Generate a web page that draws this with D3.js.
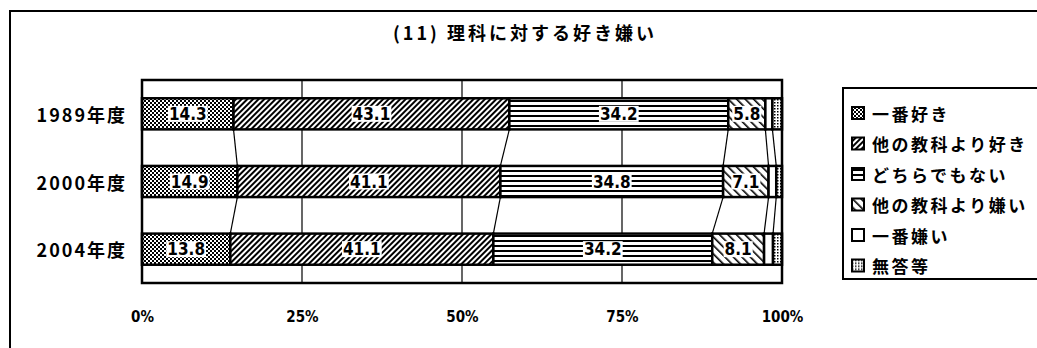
<!DOCTYPE html>
<html>
<head>
<meta charset="utf-8">
<script src="https://cdn.jsdelivr.net/npm/d3@7"></script>
<style>
  html, body { margin: 0; padding: 0; background: #fff; }
  svg { display: block; }
  .jp { font-family: "Noto Sans CJK JP", "Noto Sans", sans-serif; font-weight: bold; }
  .num { font-family: "DejaVu Sans Condensed", "DejaVu Sans", sans-serif; font-weight: bold; font-stretch: condensed; }
</style>
</head>
<body>
<script>
// Survey: liking / disliking science, by school year
const title = "(11) 理科に対する好き嫌い";
const categories = ["1989年度", "2000年度", "2004年度"];
const seriesNames = ["一番好き", "他の教科より好き", "どちらでもない", "他の教科より嫌い", "一番嫌い", "無答等"];
const likeMost    = [14.3, 14.9, 13.8];
const likeMore    = [43.1, 41.1, 41.1];
const neutral     = [34.2, 34.8, 34.2];
const dislikeMore = [5.8, 7.1, 8.1];
const dislikeMost = [1.1, 1.2, 1.4];
const noAnswer    = [1.5, 0.9, 1.4];
const labelledSeries = 4; // first four series carry value labels
const tickValues = [0, 25, 50, 75, 100];

const seriesValues = [likeMost, likeMore, neutral, dislikeMore, dislikeMost, noAnswer];
const rows = categories.map((c, i) => {
  const r = { cat: c };
  seriesNames.forEach((s, k) => r[s] = seriesValues[k][i]);
  return r;
});

const W = 1037, H = 348;
const svg = d3.select("body").append("svg").attr("width", W).attr("height", H);

// fill patterns
const defs = svg.append("defs");
function pat(id, w, h, build, transform) {
  const p = defs.append("pattern").attr("id", id).attr("patternUnits", "userSpaceOnUse")
    .attr("width", w).attr("height", h);
  if (transform) p.attr("patternTransform", transform);
  p.append("rect").attr("width", w).attr("height", h).attr("fill", "#fff");
  build(p);
}
pat("p0", 4, 4, p => {
  p.append("rect").attr("x", 0).attr("y", 0).attr("width", 2).attr("height", 2).attr("fill", "#000");
  p.append("rect").attr("x", 2).attr("y", 2).attr("width", 2).attr("height", 2).attr("fill", "#000");
});
pat("p1", 4, 4, p => {
  p.append("rect").attr("x", 0).attr("y", 0).attr("width", 2).attr("height", 4).attr("fill", "#000");
}, "rotate(45)");
pat("p2", 5, 5, p => {
  p.append("rect").attr("x", 0).attr("y", 0).attr("width", 5).attr("height", 2).attr("fill", "#000");
});
pat("p3", 6, 6, p => {
  p.append("rect").attr("x", 0).attr("y", 0).attr("width", 1.6).attr("height", 6).attr("fill", "#000");
}, "rotate(-45)");
pat("p4", 4, 4, p => {});
pat("p5", 3, 3, p => {
  p.append("rect").attr("x", 0).attr("y", 0).attr("width", 1.5).attr("height", 1.5).attr("fill", "#000");
});
const fillFor = d3.scaleOrdinal().domain(seriesNames).range(seriesNames.map((_, i) => `url(#p${i})`));

// outer frame
svg.append("path").attr("d", `M10,${H} L10,11 L${W},11`).attr("fill", "none")
  .attr("stroke", "#000").attr("stroke-width", 2);

// title
svg.append("text").attr("class", "jp").attr("x", 525).attr("y", 40)
  .attr("text-anchor", "middle").attr("font-size", 18).attr("letter-spacing", 3)
  .text(title);

// scales
const x = d3.scaleLinear().domain([0, 100]).range([142, 782]);
const y = d3.scaleBand().domain(categories).range([80, 283]).paddingInner(0.54).paddingOuter(0.27);

// gridlines
svg.append("g").selectAll("line").data(tickValues.slice(1, -1)).join("line")
  .attr("x1", d => x(d)).attr("x2", d => x(d)).attr("y1", 80).attr("y2", 283)
  .attr("stroke", "#000").attr("stroke-width", 1.2);

// stacked bars
const stack = d3.stack().keys(seriesNames)(rows);

// series lines between neighbouring bars
const connectors = [];
for (let k = 0; k < stack.length - 1; k++) {
  for (let i = 0; i < categories.length - 1; i++) {
    connectors.push({
      x1: x(stack[k][i][1]), y1: y(categories[i]) + y.bandwidth(),
      x2: x(stack[k][i + 1][1]), y2: y(categories[i + 1])
    });
  }
}
svg.append("g").selectAll("line").data(connectors).join("line")
  .attr("x1", d => d.x1).attr("y1", d => d.y1).attr("x2", d => d.x2).attr("y2", d => d.y2)
  .attr("stroke", "#000").attr("stroke-width", 1.2);

const layers = svg.append("g").selectAll("g").data(stack).join("g")
  .attr("fill", d => fillFor(d.key));
layers.selectAll("rect").data(d => d).join("rect")
  .attr("x", d => x(d[0])).attr("width", d => x(d[1]) - x(d[0]))
  .attr("y", d => y(d.data.cat)).attr("height", y.bandwidth())
  .attr("stroke", "#000").attr("stroke-width", 2.5);

// value labels with white backing
const labelG = svg.append("g");
stack.slice(0, labelledSeries).forEach(layer => {
  layer.forEach(d => {
    const cx = (x(d[0]) + x(d[1])) / 2;
    const cy = y(d.data.cat) + y.bandwidth() / 2;
    const g = labelG.append("g");
    const t = g.append("text").attr("class", "num").attr("x", cx).attr("y", cy)
      .attr("text-anchor", "middle").attr("dominant-baseline", "central")
      .attr("font-size", 17).text(d[1] - d[0] >= 0 ? (d.data[layer.key]).toFixed(1) : "");
    const b = t.node().getBBox();
    g.insert("rect", "text").attr("x", b.x - 1).attr("y", cy - 8).attr("width", b.width + 2)
      .attr("height", 16).attr("fill", "#fff");
  });
});

// plot frame
svg.append("rect").attr("x", 142).attr("y", 80).attr("width", 640).attr("height", 203)
  .attr("fill", "none").attr("stroke", "#000").attr("stroke-width", 2.5);

// category axis labels
svg.append("g").selectAll("text").data(categories).join("text")
  .attr("class", "jp").attr("x", 127).attr("y", d => y(d) + y.bandwidth() / 2)
  .attr("text-anchor", "end").attr("dominant-baseline", "central")
  .attr("font-size", 18).attr("letter-spacing", 2).text(d => d);

// percentage axis
const xAxis = d3.axisBottom(x).tickValues(tickValues).tickSize(0).tickPadding(0)
  .tickFormat(d => d + "%");
const ax = svg.append("g").attr("transform", "translate(0,311)").call(xAxis);
ax.select(".domain").remove();
ax.selectAll("text").attr("class", "num").attr("font-size", 15).attr("fill", "#000")
  .attr("dy", "0.71em").attr("y", 0);

// legend
const lg = svg.append("g");
lg.append("path").attr("d", `M${W + 2},88 L843,88 L843,279 L${W + 2},279`)
  .attr("fill", "none").attr("stroke", "#000").attr("stroke-width", 2);
const items = lg.selectAll("g.item").data(seriesNames).join("g").attr("class", "item")
  .attr("transform", (d, i) => `translate(0,${113 + i * 30.5})`);
items.append("rect").attr("x", 852).attr("y", -6).attr("width", 12).attr("height", 12)
  .attr("fill", d => fillFor(d)).attr("stroke", "#000").attr("stroke-width", 2);
items.append("text").attr("class", "jp").attr("x", 872).attr("y", 0)
  .attr("dominant-baseline", "central").attr("font-size", 17).attr("letter-spacing", 2.5)
  .text(d => d);
</script>
</body>
</html>
